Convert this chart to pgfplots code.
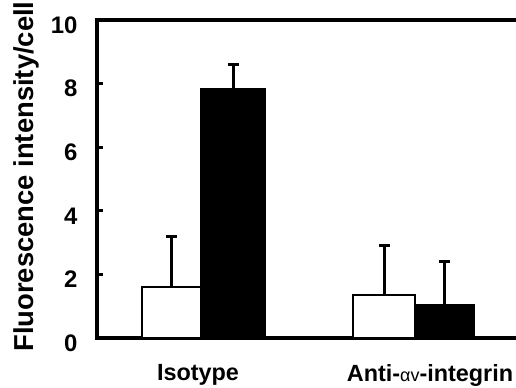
\documentclass[border=0pt]{standalone}
\usepackage{pgfplots}
\pgfplotsset{compat=1.18}
\usepackage{fontspec}
\setmainfont{Liberation Sans}
\usetikzlibrary{calc}
\begin{document}
\begin{tikzpicture}
\begin{axis}[
  name=ax,
  scale only axis,
  width=419bp, height=318bp,
  xmin=97, xmax=516, ymin=0, ymax=10,
  axis x line*=box, axis y line*=left,
  axis line style={line width=3.5bp,-,line cap=rect},
  every outer x axis line/.append style={-},
  every outer y axis line/.append style={-},
  every inner x axis line/.append style={-},
  every inner y axis line/.append style={-},
  xtick pos=bottom, ytick pos=left,
  ytick={0,2,4,6,8,10},
  tick align=inside,
  major tick length=6bp,
  tick style={line width=3bp,black},
  /pgf/number format/assume math mode=true,
  yticklabel style={font=\fontsize{24}{26}\selectfont\bfseries, xshift=-16bp, yshift=-5bp},
  xtick={198,430},
  xticklabels={Isotype,{Anti-{\mdseries\fontsize{18}{18}\selectfont αv}-integrin}},
  x tick style={draw=none},
  xticklabel style={font=\fontsize{23.5}{25}\selectfont\bfseries, yshift=-23bp},
  extra x ticks={308},
  extra x tick labels={},
  extra x tick style={tick style={draw=black,line width=2bp}, major tick length=7bp},
  ylabel={Fluorescence intensity/cell},
  ylabel style={font=\fontsize{27.5}{29}\selectfont\bfseries, at={(rel axis cs:0,0.5)}, anchor=center, yshift=71bp, xshift=2.5bp},
  clip=false,
  error bars/y dir=plus, error bars/y explicit,
  error bars/error bar style={line width=3bp,black},
  error bars/error mark options={rotate=90, mark size=5.5bp, line width=3bp, black},
]
\addplot[ybar, bar shift=0pt, bar width=59, fill=white, draw=black, line width=2bp]
  coordinates {(171.5,1.6) +- (0,1.6)};
\addplot[ybar, bar shift=0pt, bar width=64, fill=black, draw=black, line width=1bp]
  coordinates {(233,7.85) +- (0,0.75)};
\addplot[ybar, bar shift=0pt, bar width=62, fill=white, draw=black, line width=2bp]
  coordinates {(384,1.35) +- (0,1.57)};
\addplot[ybar, bar shift=0pt, bar width=59, fill=black, draw=black, line width=1bp]
  coordinates {(444.5,1.05) +- (0,1.35)};
\end{axis}
\pgfresetboundingbox
\path ($(ax.south west)+(-97bp,-50bp)$) rectangle ($(ax.south west)+(419bp,338bp)$);
\end{tikzpicture}
\end{document}
